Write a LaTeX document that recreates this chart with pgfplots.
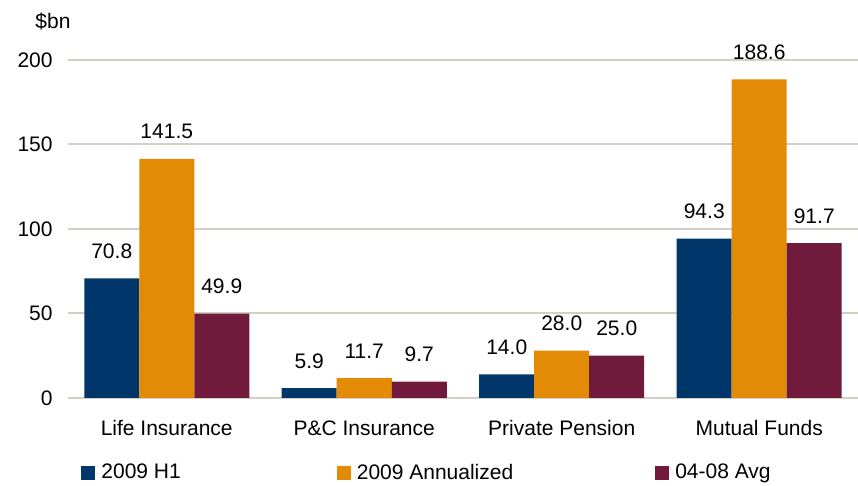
\documentclass[border=0pt]{standalone}
\usepackage{pgfplots}
\pgfplotsset{compat=1.18}
\usepackage{fontspec}
\setmainfont{Liberation Sans}
\definecolor{cblue}{RGB}{0,54,105}
\definecolor{corange}{RGB}{227,139,6}
\definecolor{cpurple}{RGB}{112,26,60}
\definecolor{cgrid}{RGB}{212,207,198}
\begin{document}
\begin{tikzpicture}
\useasboundingbox (0,0) rectangle (429pt,243pt);
\begin{axis}[
  at={(34pt,44pt)}, anchor=south west,
  scale only axis, width=395pt, height=169pt,
  ybar=0pt, bar width=27.5pt,
  xmin=-0.5, xmax=3.5, ymin=0, ymax=200,
  xtick=data,
  xticklabels={Life Insurance, P\&C Insurance, Private Pension, Mutual Funds},
  ytick={0,50,100,150,200},
  ymajorgrids, grid style={cgrid, line width=1pt},
  axis line style={draw=none}, major tick length=0pt,
  font=\fontsize{10.5}{12}\selectfont,
  /pgf/number format/assume math mode=true,
  yticklabel style={anchor=east, inner sep=0pt, xshift=-7.5pt},
  xticklabel style={anchor=base, inner sep=0pt, yshift=-19pt},
  nodes near coords={\pgfmathprintnumber[fixed,fixed zerofill,precision=1]{\pgfplotspointmeta}},
  every node near coord/.append style={anchor=base, inner sep=0pt, yshift=10pt, black},
  legend columns=3,
  legend style={at={(0.0165,-0.222)}, anchor=west, draw=none, fill=none, inner sep=0pt,
    nodes={inner sep=1pt},
    font=\fontsize{10.5}{12}\selectfont,
    /tikz/every even column/.append style={column sep=70pt}},
  legend image code/.code={\fill[#1] (0pt,-3.5pt) rectangle (7pt,3.5pt); \path (0pt,0pt) -- (9pt,0pt);},
]
\addplot[fill=cblue, draw=none] coordinates {(0,70.8) (1,5.9) (2,14.0) (3,94.3)};
\addlegendentry{2009 H1\rule{7pt}{0pt}}
\addplot[fill=corange, draw=none] coordinates {(0,141.5) (1,11.7) (2,28.0) (3,188.6)};
\addlegendentry{2009 Annualized}
\addplot[fill=cpurple, draw=none] coordinates {(0,49.9) (1,9.7) (2,25.0) (3,91.7)};
\addlegendentry{04-08 Avg}
\end{axis}
\node[font=\fontsize{10.5}{12}\selectfont] at (26.5pt,232.5pt) {\$bn};
\end{tikzpicture}
\end{document}
